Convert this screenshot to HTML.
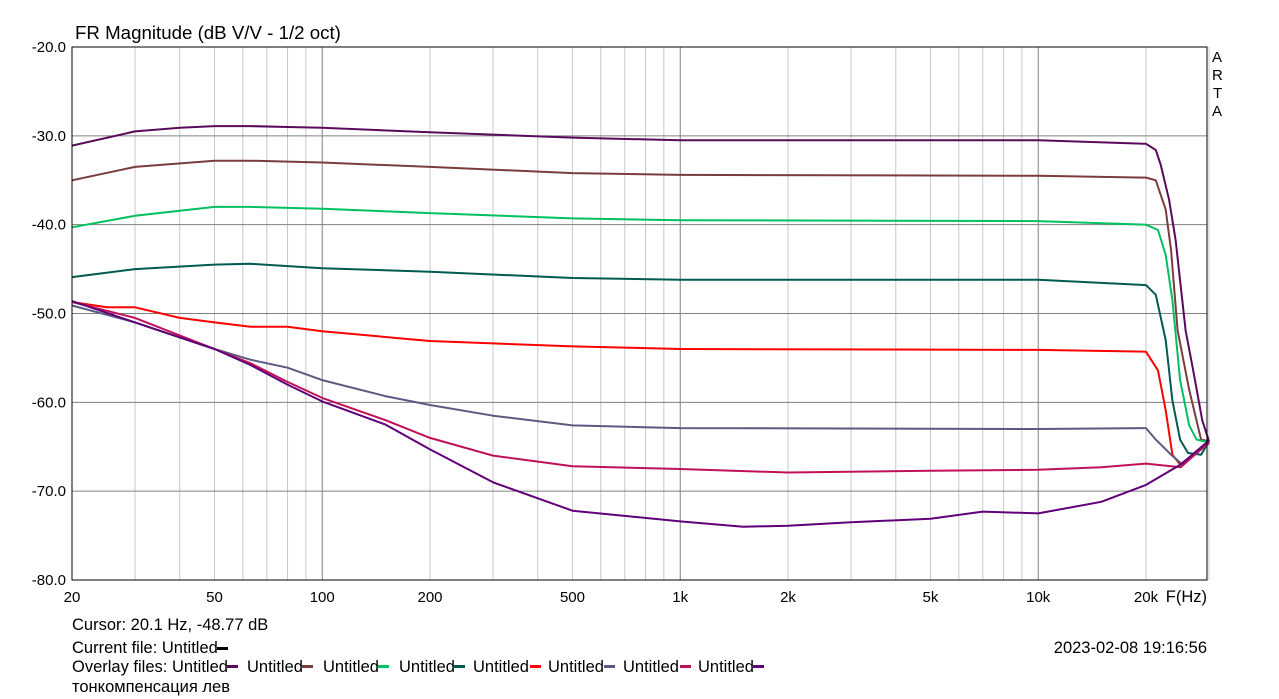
<!DOCTYPE html>
<html><head><meta charset="utf-8"><style>
body{margin:0;background:#fff;}
svg{display:block;font-family:"Liberation Sans",Arial,sans-serif;}
</style></head><body>
<svg id="chart" width="1279" height="699" viewBox="0 0 1279 699" xmlns="http://www.w3.org/2000/svg">
<rect width="1279" height="699" fill="#fff"/>
<text x="75" y="39" font-size="18.7" fill="#000">FR Magnitude (dB V/V - 1/2 oct)</text>
<g id="grid"></g>
<g id="series"></g>
<g id="labels"></g>
<rect x="72" y="47" width="1135" height="533" fill="none" stroke="#000" stroke-width="1"/>
<g font-size="15" fill="#000">
<text x="1212" y="62">A</text><text x="1212" y="80">R</text><text x="1213" y="98">T</text><text x="1212" y="116">A</text>
</g>
<text x="1207" y="602" font-size="16.5" text-anchor="end">F(Hz)</text>
<text x="72" y="630" font-size="16.5">Cursor: 20.1 Hz, -48.77 dB</text>
<text x="72" y="653" font-size="16.5">Current file: Untitled</text>
<rect x="217" y="647" width="11" height="3" fill="#000"/>
<text x="1207" y="653" font-size="16.5" text-anchor="end">2023-02-08  19:16:56</text>
<g id="legend" font-size="16.5"></g>
<text x="72" y="692" font-size="16.5" font-family="Liberation Sans,DejaVu Sans,sans-serif">тонкомпенсация лев</text>
</svg>
<script>
const yTicks=[-20,-30,-40,-50,-60,-70,-80];
const xTickVals=[20,50,100,200,500,1000,2000,5000,10000,20000];
const xTickLabels=["20","50","100","200","500","1k","2k","5k","10k","20k"];
const seriesColors=["#5a0a5a","#7a3c3c","#00c060","#005a50","#ff0000","#5a5a82","#c0105a","#600078"];

const f1=[20,30,40,50,63,80,100,200,500,1000,10000,20000,21300,22000,23200,24200,25800,27100,28700,30000];
const d1=[-31.1,-29.5,-29.1,-28.9,-28.9,-29,-29.1,-29.6,-30.2,-30.5,-30.5,-30.9,-31.6,-33.3,-37.2,-41.7,-51.9,-56.4,-62,-64.4];
const f2=[20,30,50,63,100,200,500,1000,10000,20000,21300,22700,23500,24500,26400,28500,30000];
const d2=[-35,-33.5,-32.8,-32.8,-33,-33.5,-34.2,-34.4,-34.5,-34.7,-35,-38.3,-42.9,-51.9,-58.6,-64.2,-64.4];
const f3=[20,30,50,63,100,200,500,1000,10000,20000,21600,22700,23700,24900,26400,27700,30000];
const d3=[-40.3,-39,-38,-38,-38.2,-38.7,-39.3,-39.5,-39.6,-40,-40.6,-43.4,-48.5,-57.5,-62.6,-64.2,-64.5];
const f4=[20,30,50,63,100,200,500,1000,10000,20000,21300,22700,23700,24900,26200,28500,30000];
const d4=[-45.9,-45,-44.5,-44.4,-44.9,-45.3,-46,-46.2,-46.2,-46.8,-47.9,-53,-59.8,-64.2,-65.7,-65.9,-64.4];
const f5=[20,25,30,40,50,63,80,100,200,500,1000,10000,20000,21600,22700,23700,24900,30000];
const d5=[-48.7,-49.3,-49.3,-50.5,-51,-51.5,-51.5,-52,-53.1,-53.7,-54,-54.1,-54.3,-56.4,-60.9,-65.9,-67,-64.6];
const f6=[20,30,50,63,80,100,150,200,300,500,1000,10000,20000,21300,23500,25300,30000];
const d6=[-49.1,-51,-54,-55.2,-56.1,-57.5,-59.3,-60.3,-61.5,-62.6,-62.9,-63,-62.9,-64.2,-65.9,-67,-64.6];
const f7=[20,30,50,63,80,100,150,200,300,500,1000,2000,5000,10000,15000,20000,25000,30000];
const d7=[-48.7,-50.5,-54,-55.6,-57.7,-59.5,-62,-64,-66,-67.2,-67.5,-67.9,-67.7,-67.6,-67.3,-66.9,-67.3,-64.5];
const f8=[20,30,50,63,80,100,150,200,300,500,1000,1500,2000,3000,5000,7000,10000,15000,20000,25000,30000];
const d8=[-48.6,-51,-54,-55.8,-58,-59.9,-62.5,-65.3,-69,-72.2,-73.4,-74,-73.9,-73.5,-73.1,-72.3,-72.5,-71.2,-69.3,-67,-64.3];
const seriesF=[f1,f2,f3,f4,f5,f6,f7,f8];
const seriesD=[d1,d2,d3,d4,d5,d6,d7,d8];

const X0=72,X1=1207,Y0=47,Y1=580,DEC=358;
function xs(f){return X0+DEC*Math.log10(f/20);}
function ys(d){return Y0+(-20-d)*(Y1-Y0)/60;}
const NS="http://www.w3.org/2000/svg";
function mk(t,a,p){const e=document.createElementNS(NS,t);for(const k in a)e.setAttribute(k,a[k]);p.appendChild(e);return e;}
const grid=document.getElementById('grid'),labels=document.getElementById('labels');
for(let dec=10;dec<=10000;dec*=10){for(let m=1;m<10;m++){const f=dec*m;if(f<20||f>30000)continue;
 const major=(m===1);
 const l=mk('line',{x1:xs(f),x2:xs(f),y1:Y0,y2:Y1,stroke:major?'#808080':'#c8c8c8','stroke-width':1},grid);
 
 
}}
yTicks.forEach(v=>{
 const l=mk('line',{x1:X0,x2:X1,y1:ys(v),y2:ys(v),stroke:'#808080','stroke-width':1},grid);
 
 
 const t=mk('text',{x:66,y:ys(v)+5,'text-anchor':'end','font-size':15},labels);
 t.textContent=v.toFixed(1);
 
 
});
xTickVals.forEach((v,i)=>{
 const t=mk('text',{x:xs(v),y:602,'text-anchor':'middle','font-size':15},labels);
 t.textContent=xTickLabels[i];
 
 
});
const sg=document.getElementById('series');
seriesF.forEach((fa,i)=>{
 const pts=fa.map((f,j)=>xs(f).toFixed(1)+','+ys(seriesD[i][j]).toFixed(1)).join(' ');
 const p=mk('polyline',{points:pts,fill:'none',stroke:seriesColors[i],'stroke-width':2,'stroke-linejoin':'round'},sg);
 
 
});
const lg=document.getElementById('legend');
const t0=mk('text',{x:72,y:672},lg);t0.textContent='Overlay files:';


const lx=[172,247,323,399,473,548,623,698];
const sx=[227,302,378,454,530,604,680,753];
lx.forEach((x,i)=>{
 const t=mk('text',{x:x,y:672},lg);t.textContent='Untitled';
 
 
 const r=mk('rect',{x:sx[i],y:665,width:11,height:3,fill:seriesColors[i]},lg);
 
 
});
</script>
</body></html>
